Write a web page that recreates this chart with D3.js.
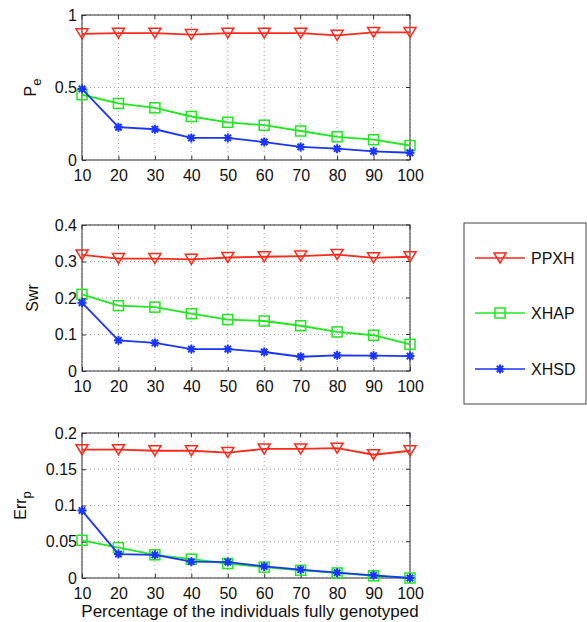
<!DOCTYPE html>
<html><head><meta charset="utf-8">
<script src="https://cdnjs.cloudflare.com/ajax/libs/d3/7.8.5/d3.min.js"></script>
<style>body{margin:0;background:#fff;} svg{display:block;font-family:"Liberation Sans",Arial,Helvetica,sans-serif;}</style>
</head><body>
<svg id="c" width="587" height="622"></svg>
<script>
const xCats = [10,20,30,40,50,60,70,80,90,100];
const seriesNames = ["PPXH","XHAP","XHSD"];
const seriesColors = ["#ff2a1a","#1fe81f","#1a35ff"];
const peValues = {
  PPXH:[0.87,0.875,0.875,0.865,0.875,0.875,0.875,0.86,0.88,0.88],
  XHAP:[0.45,0.39,0.36,0.30,0.26,0.24,0.20,0.16,0.14,0.10],
  XHSD:[0.49,0.226,0.212,0.152,0.152,0.124,0.09,0.078,0.06,0.05]
};
const swrValues = {
  PPXH:[0.318,0.308,0.308,0.306,0.311,0.313,0.315,0.319,0.31,0.313],
  XHAP:[0.21,0.179,0.175,0.157,0.141,0.137,0.124,0.107,0.098,0.073],
  XHSD:[0.187,0.084,0.077,0.06,0.06,0.052,0.039,0.043,0.042,0.041]
};
const errValues = {
  PPXH:[0.177,0.177,0.1755,0.1755,0.173,0.178,0.178,0.179,0.170,0.1755],
  XHAP:[0.052,0.042,0.032,0.026,0.020,0.015,0.0106,0.007,0.003,0.0],
  XHSD:[0.093,0.033,0.032,0.0225,0.022,0.016,0.0115,0.0074,0.0037,0.0]
};
const peTicks = [0,0.5,1];
const swrTicks = [0,0.1,0.2,0.3,0.4];
const errTicks = [0,0.05,0.1,0.15,0.2];
const xTitle = "Percentage of the individuals fully genotyped";

const svg = d3.select("#c");
const L = 82, R = 410;
const x = d3.scaleLinear().domain([10,100]).range([L,R]);
const panels = [
  {vals:peValues, ticks:peTicks, max:1, top:15, bottom:160, label:["P","e"], lx:36},
  {vals:swrValues, ticks:swrTicks, max:0.4, top:225, bottom:371, label:["Swr",""], lx:38},
  {vals:errValues, ticks:errTicks, max:0.2, top:433, bottom:578, label:["Err","p"], lx:26}
];
const axisCol = "#333";
const fs = 16;

function marker(g, name, color, cx, cy){
  if(name==="PPXH"){
    g.append("path").attr("d",`M${cx-6},${cy-5}L${cx+6},${cy-5}L${cx},${cy+5}Z`)
      .attr("fill","none").attr("stroke",color).attr("stroke-width",1.5);
  } else if(name==="XHAP"){
    g.append("rect").attr("x",cx-5).attr("y",cy-5).attr("width",10).attr("height",10)
      .attr("fill","none").attr("stroke",color).attr("stroke-width",1.5);
  } else {
    const s=4.5, d=3.2;
    g.append("path").attr("d",`M${cx-s},${cy}L${cx+s},${cy}M${cx},${cy-s}L${cx},${cy+s}M${cx-d},${cy-d}L${cx+d},${cy+d}M${cx-d},${cy+d}L${cx+d},${cy-d}`)
      .attr("stroke",color).attr("stroke-width",2);
  }
}

panels.forEach(p=>{
  const y = d3.scaleLinear().domain([0,p.max]).range([p.bottom,p.top]);
  const g = svg.append("g");
  // grid
  xCats.forEach(v=>{
    g.append("line").attr("x1",x(v)).attr("x2",x(v)).attr("y1",p.top).attr("y2",p.bottom)
      .attr("stroke","#888").attr("stroke-width",0.8).attr("stroke-dasharray","1,3");
  });
  p.ticks.forEach(v=>{
    g.append("line").attr("x1",L).attr("x2",R).attr("y1",y(v)).attr("y2",y(v))
      .attr("stroke","#888").attr("stroke-width",0.8).attr("stroke-dasharray","1,3");
  });
  // axes via d3
  const xa = d3.axisBottom(x).tickValues(xCats).tickSizeInner(-4).tickSizeOuter(0).tickPadding(10);
  const gx = g.append("g").attr("transform",`translate(0,${p.bottom})`).call(xa);
  const ya = d3.axisLeft(y).tickValues(p.ticks).tickSizeInner(-4).tickSizeOuter(0).tickPadding(5).tickFormat(d=>String(+d.toFixed(2)));
  const gy = g.append("g").attr("transform",`translate(${L},0)`).call(ya);
  [gx,gy].forEach(a=>{
    a.selectAll("path").remove();
    a.selectAll("line").attr("stroke",axisCol);
    a.selectAll("text").attr("font-size",fs).attr("fill","#111").attr("font-family","Liberation Sans, Arial, sans-serif");
  });
  // top/right ticks
  xCats.forEach(v=>g.append("line").attr("x1",x(v)).attr("x2",x(v)).attr("y1",p.top).attr("y2",p.top+4).attr("stroke",axisCol));
  p.ticks.forEach(v=>g.append("line").attr("x1",R).attr("x2",R-4).attr("y1",y(v)).attr("y2",y(v)).attr("stroke",axisCol));
  g.append("rect").attr("x",L).attr("y",p.top).attr("width",R-L).attr("height",p.bottom-p.top)
    .attr("fill","none").attr("stroke",axisCol).attr("stroke-width",1);
  // y label
  const cy = (p.top+p.bottom)/2;
  const t = g.append("text").attr("transform",`translate(${p.lx},${cy}) rotate(-90)`)
    .attr("text-anchor","middle").attr("font-size",fs).attr("fill","#111");
  t.append("tspan").text(p.label[0]);
  if(p.label[1]) t.append("tspan").attr("dy",5).attr("font-size",fs-3).text(p.label[1]);
  // series
  seriesNames.forEach((n,i)=>{
    const vals = p.vals[n];
    const line = d3.line().x((d,j)=>x(xCats[j])).y(d=>y(d));
    g.append("path").datum(vals).attr("d",line).attr("fill","none")
      .attr("stroke",seriesColors[i]).attr("stroke-width",1.8);
    vals.forEach((v,j)=>marker(g,n,seriesColors[i],x(xCats[j]),y(v)));
  });
});

svg.append("text").attr("x",250).attr("y",617).attr("text-anchor","middle")
  .attr("font-size",17).attr("fill","#111").text(xTitle);

// legend
const lg = svg.append("g");
lg.append("rect").attr("x",464).attr("y",223).attr("width",122).attr("height",181)
  .attr("fill","#fff").attr("stroke","#444").attr("stroke-width",1);
const legY = [258,313,369];
seriesNames.forEach((n,i)=>{
  lg.append("line").attr("x1",475).attr("x2",525).attr("y1",legY[i]).attr("y2",legY[i])
    .attr("stroke",seriesColors[i]).attr("stroke-width",1.5);
  marker(lg,n,seriesColors[i],500,legY[i]);
  lg.append("text").attr("x",531).attr("y",legY[i]+6).attr("font-size",fs).attr("fill","#111").text(n);
});
</script>
</body></html>
